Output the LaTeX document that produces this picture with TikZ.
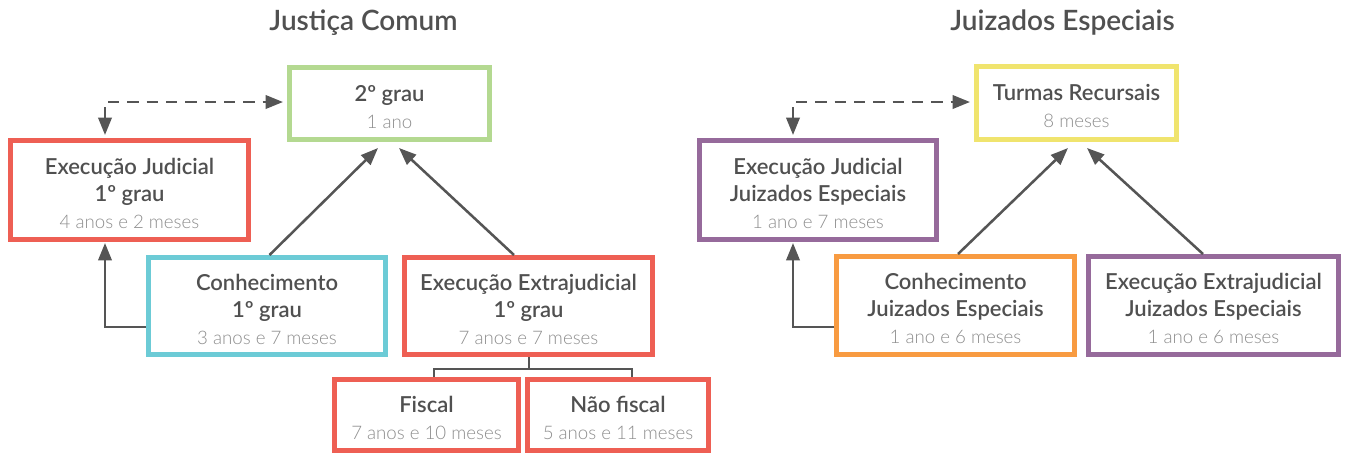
\documentclass[tikz,border=0pt]{standalone}
\usepackage{fontspec}
\setmainfont{Lato}
\newfontfamily\lightfont{Lato Light}
\newfontfamily\semifont{Lato Semibold}
\usetikzlibrary{arrows.meta,calc}
\definecolor{tgray}{HTML}{505050}
\definecolor{lgray}{HTML}{8E8E8E}
\definecolor{lcol}{HTML}{555555}
\definecolor{cgreen}{HTML}{B4D991}
\definecolor{cred}{HTML}{EE5F54}
\definecolor{ccyan}{HTML}{6CCBD6}
\definecolor{cyellow}{HTML}{F0E46E}
\definecolor{corange}{HTML}{F89B41}
\definecolor{cpurple}{HTML}{966A9B}
\newcommand\lighttxt[1]{{\lightfont\mdseries\fontsize{14}{20.25}\selectfont\color{lgray}#1}}
\newcommand\topstrut{\rule{0pt}{17pt}}
\begin{document}
\begin{tikzpicture}[x=0.75pt,y=-0.75pt,
  box/.style={draw, line width=3.75pt, fill=white, inner sep=0pt, align=center,
    text=tgray, font=\semifont\fontsize{16.5}{20.25}\selectfont},
  sz/.style 2 args={minimum width=#1*0.75pt-3.75pt, minimum height=#2*0.75pt-3.75pt},
  arr/.style={draw=lcol, line width=1.9pt, -{Triangle[length=13pt,width=10pt]}},
  darr/.style={draw=lcol, line width=1.9pt, dash pattern=on 8.5pt off 6pt,
    {Triangle[length=13pt,width=10pt]}-{Triangle[length=13pt,width=10pt]}},
  brk/.style={draw=lcol, line width=1.5pt},
  ttl/.style={anchor=base, text=tgray, font=\semifont\fontsize{21}{25}\selectfont}
]
\useasboundingbox (0,0) rectangle (1349,455);

% titles
\node[ttl] (t1) at (363.5,30) {Justiça Comum};
\node[ttl] (t2) at (1062.5,30) {Juizados Especiais};

% left: Justica Comum
\node[box, draw=cgreen, sz={205}{77}] (A) at (389.5,103.5) {\topstrut 2º grau\\\lighttxt{1 ano}};
\node[box, draw=cred, sz={243}{104}] (B) at (129.5,190) {\topstrut Execução Judicial\\1º grau\\\lighttxt{4 anos e 2 meses}};
\node[box, draw=ccyan, sz={242}{102}] (C) at (267,306) {\topstrut Conhecimento\\1º grau\\\lighttxt{3 anos e 7 meses}};
\node[box, draw=cred, sz={253}{102}] (D) at (528.5,306) {\topstrut Execução Extrajudicial\\1º grau\\\lighttxt{7 anos e 7 meses}};
\node[box, draw=cred, sz={189}{76}] (E) at (426.5,415) {\topstrut Fiscal\\\lighttxt{7 anos e 10 meses}};
\node[box, draw=cred, sz={186}{76}] (F) at (618,415) {\topstrut Não fiscal\\\lighttxt{5 anos e 11 meses}};

\draw[arr] ($(C.north)+(2.5,0)$) -- ($(A.south)+(-11.5,6)$);
\draw[arr] ($(D.north)+(-14.5,0)$) -- ($(A.south)+(9.5,6)$);
\draw[darr] ($(B.north)+(-24.5,-3)$) |- ($(A.west)+(-4,-1.5)$);
\draw[arr] ($(C.west)+(0,21)$) -| ($(B.south)+(-24.5,1)$);
\draw[brk] (D.south) -- ($(D.south)+(0,12)$);
\draw[brk] ($(E.north)+(7.5,0)$) |- ($(F.north)+(14,-8)$) -- ($(F.north)+(14,0)$);

% right: Juizados Especiais
\node[box, draw=cyellow, sz={205}{78}] (G) at (1076.5,103) {\topstrut Turmas Recursais\\\lighttxt{8 meses}};
\node[box, draw=cpurple, sz={242}{104}] (H) at (818,190) {\topstrut Execução Judicial\\Juizados Especiais\\\lighttxt{1 ano e 7 meses}};
\node[box, draw=corange, sz={243}{103}] (I) at (955.5,305.5) {\topstrut Conhecimento\\Juizados Especiais\\\lighttxt{1 ano e 6 meses}};
\node[box, draw=cpurple, sz={255}{103}] (J) at (1213.5,305.5) {\topstrut Execução Extrajudicial\\Juizados Especiais\\\lighttxt{1 ano e 6 meses}};

\draw[arr] ($(I.north)+(2.5,0)$) -- ($(G.south)+(-8.5,6)$);
\draw[arr] ($(J.north)+(-10.5,0)$) -- ($(G.south)+(10.5,6)$);
\draw[darr] ($(H.north)+(-25,-3)$) |- ($(G.west)+(-4,-1)$);
\draw[arr] ($(I.west)+(0,21.5)$) -| ($(H.south)+(-25,1)$);
\end{tikzpicture}
\end{document}
